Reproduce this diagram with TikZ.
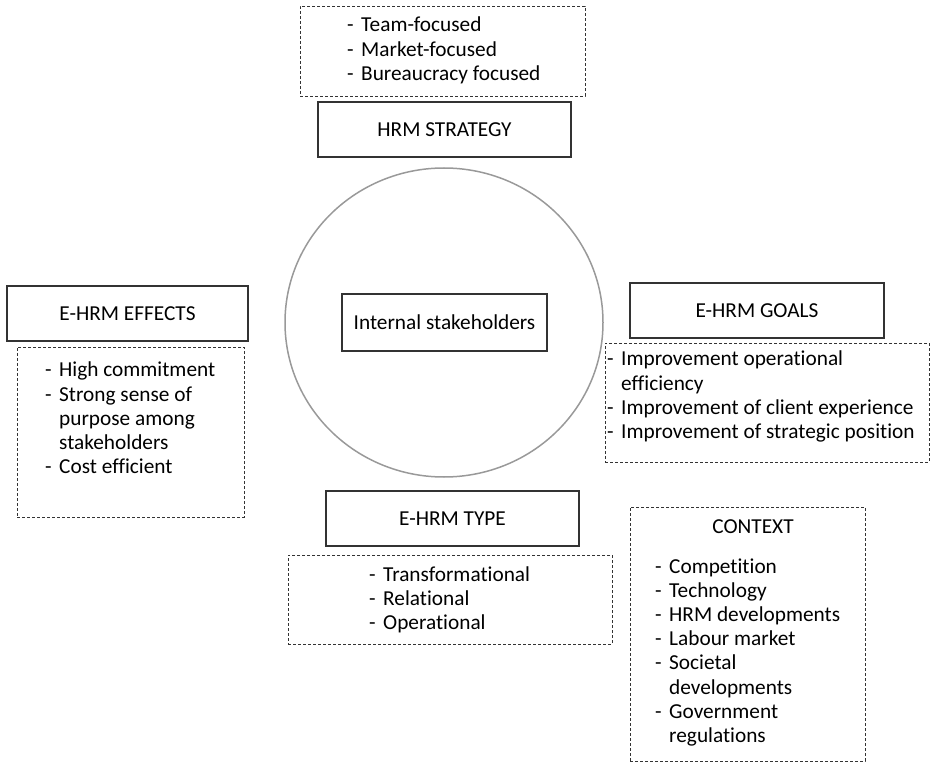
\documentclass[tikz,border=0pt]{standalone}
\usepackage{fontspec}
\setmainfont{Carlito}[Ligatures={NoCommon}]
\usetikzlibrary{shapes.geometric}
\tikzset{
  solidbox/.style={draw=black!80, line width=1.2pt, inner sep=0pt, font=\fontsize{21.3}{24.2}\selectfont},
  dashbox/.style={draw=black!80, line width=0.9pt, dash pattern=on 3pt off 2pt, inner sep=0pt},
  listtext/.style={anchor=base west, inner sep=0pt, font=\fontsize{21.3}{24.2}\selectfont},
  titletext/.style={anchor=base, inner sep=0pt, font=\fontsize{21.3}{24.2}\selectfont},
}
\newcommand{\dl}{\makebox[14pt][l]{-}}
\newcommand{\ind}{\hspace*{14pt}}
\begin{document}
\begin{tikzpicture}[x=1pt,y=-1pt]
\useasboundingbox (0,0) rectangle (930,762);
% circle
\node (circ) [ellipse, draw=black!40, line width=1.5pt, minimum width=318pt, minimum height=309pt, inner sep=0pt] at (444,322.5) {};
% HRM strategy
\node (stratlist) [dashbox, minimum width=285pt, minimum height=90pt] at (442.5,51) {};
\node (strattxt) [listtext] at (347,32) {\begin{tabular}[t]{@{}l@{}}\dl Team-focused\\ \dl Market-focused\\ \dl Bureaucracy focused\end{tabular}};
\node (strat) [solidbox, minimum width=253pt, minimum height=55pt] at (444.5,129.5) {HRM STRATEGY};
% internal
\node (internal) [solidbox, minimum width=205pt, minimum height=57pt] at (444.5,322.5) {Internal stakeholders};
% effects
\node (effects) [solidbox, minimum width=241pt, minimum height=55pt] at (127.5,313.5) {E-HRM EFFECTS};
\node (efflist) [dashbox, minimum width=227pt, minimum height=170pt] at (130.5,432) {};
\node (efftxt) [listtext] at (45,377) {\begin{tabular}[t]{@{}l@{}}\dl High commitment\\ \dl Strong sense of\\ \ind purpose among\\ \ind stakeholders\\ \dl Cost efficient\end{tabular}};
% goals
\node (goals) [solidbox, minimum width=254pt, minimum height=55pt] at (757,310.5) {E-HRM GOALS};
\node (goallist) [dashbox, minimum width=324pt, minimum height=119pt] at (767,402.5) {};
\node (goaltxt) [listtext] at (607,366) {\begin{tabular}[t]{@{}l@{}}\dl Improvement operational\\ \ind efficiency\\ \dl Improvement of client experience\\ \dl Improvement of strategic position\end{tabular}};
% type
\node (type) [solidbox, minimum width=253pt, minimum height=55pt] at (452.5,518.5) {E-HRM TYPE};
\node (typelist) [dashbox, minimum width=324pt, minimum height=89pt] at (450,599.5) {};
\node (typetxt) [listtext] at (369,581) {\begin{tabular}[t]{@{}l@{}}\dl Transformational\\ \dl Relational\\ \dl Operational\end{tabular}};
% context
\node (context) [dashbox, minimum width=235pt, minimum height=254pt] at (747.5,634) {};
\node (contexttitle) [titletext] at (753,533) {CONTEXT};
\node (contexttxt) [listtext] at (655,573) {\begin{tabular}[t]{@{}l@{}}\dl Competition\\ \dl Technology\\ \dl HRM developments\\ \dl Labour market\\ \dl Societal\\ \ind developments\\ \dl Government\\ \ind regulations\end{tabular}};
\end{tikzpicture}
\end{document}
